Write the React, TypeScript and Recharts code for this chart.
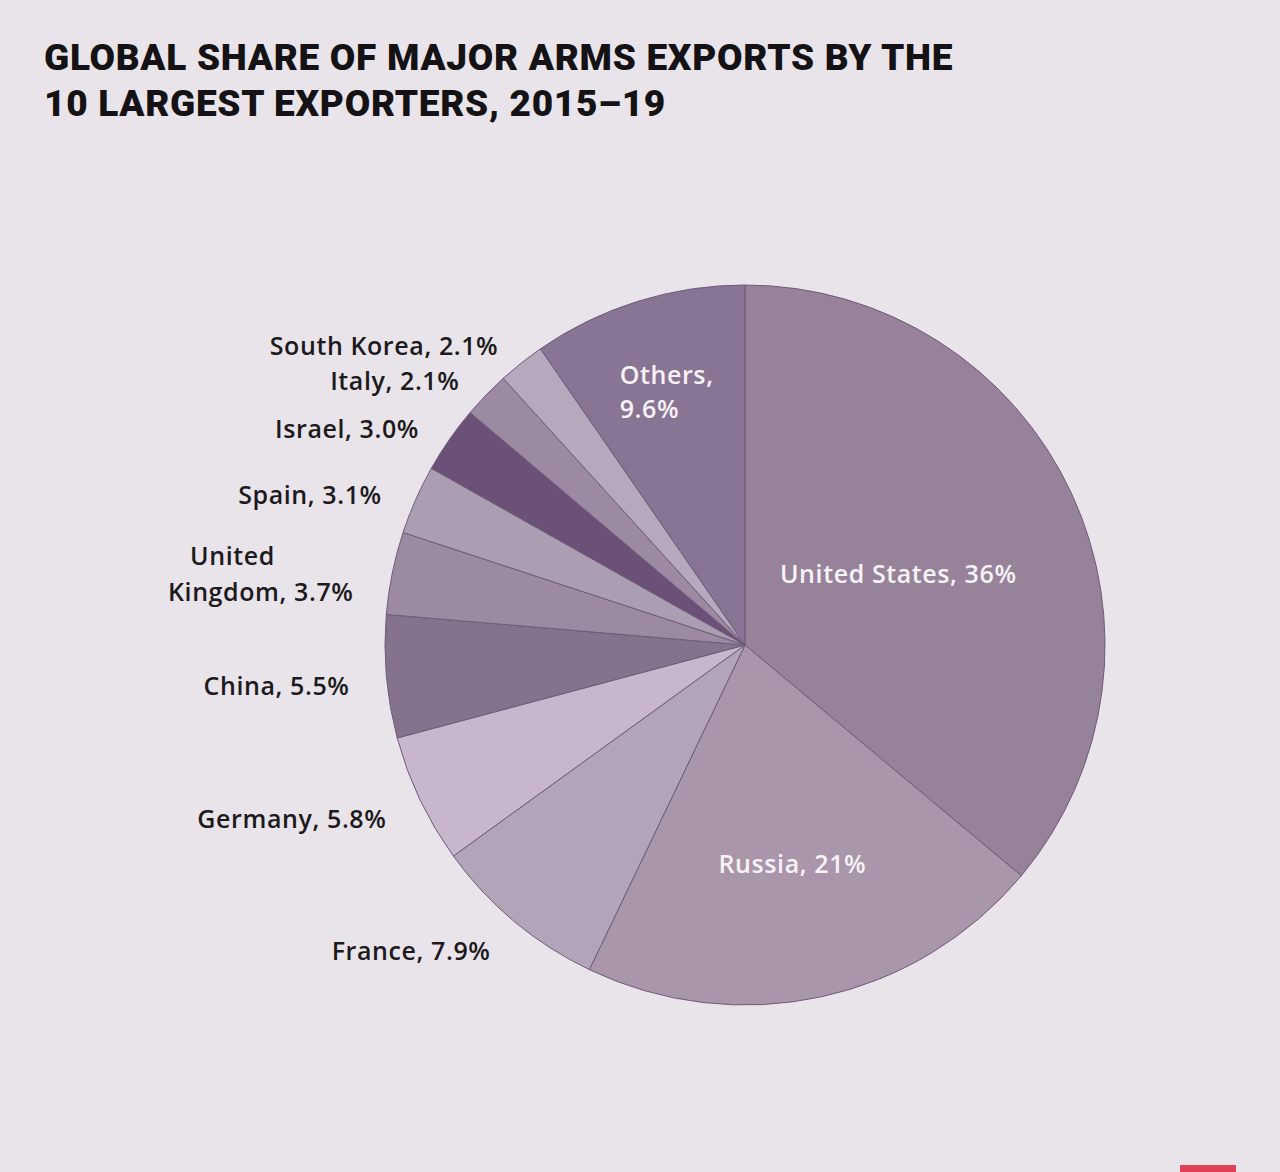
import React from 'react';
import { PieChart, Pie, Cell } from 'recharts';

const countries = [
  'United States',
  'Russia',
  'France',
  'Germany',
  'China',
  'United\nKingdom',
  'Spain',
  'Israel',
  'Italy',
  'South Korea',
  'Others',
];
const shares = [36, 21, 7.9, 5.8, 5.5, 3.7, 3.1, 3.0, 2.1, 2.1, 9.6];
const shareLabels = ['36%', '21%', '7.9%', '5.8%', '5.5%', '3.7%', '3.1%', '3.0%', '2.1%', '2.1%', '9.6%'];
const sliceColors = [
  '#968399',
  '#a996ab',
  '#b3a5b9',
  '#c8b7cc',
  '#85728c',
  '#9b8aa2',
  '#ab9db2',
  '#6b5177',
  '#9c8aa3',
  '#b6a9bd',
  '#887593',
];

const data = countries.map((name, i) => ({ name, value: shares[i], text: shareLabels[i] }));

// labels drawn inside their slice, radius as fraction of outer radius
const insideRadius: Record<string, number> = { 'United States': 0.47, Russia: 0.62, Others: 0.74 };

const RAD = Math.PI / 180;
const labelFont = {
  fontFamily: '"Open Sans", sans-serif',
  fontSize: 25,
  fontWeight: 600,
  letterSpacing: 0.6,
};

function renderLabel(props: any) {
  const { cx, cy, midAngle, outerRadius, payload, index } = props;
  const name: string = payload.name;
  const text: string = payload.text;
  const cos = Math.cos(-midAngle * RAD);
  const sin = Math.sin(-midAngle * RAD);

  if (insideRadius[name] !== undefined) {
    const r = outerRadius * insideRadius[name];
    const x = cx + r * cos;
    const y = cy + r * sin;
    if (name === 'Others') {
      return (
        <text key={index} x={x - 46} y={y - 17} fill="#f6f2f7" textAnchor="start" dominantBaseline="central" {...labelFont}>
          <tspan x={x - 46}>{name},</tspan>
          <tspan x={x - 46} dy={34}>{text}</tspan>
        </text>
      );
    }
    return (
      <text key={index} x={x} y={y} fill="#f6f2f7" textAnchor="middle" dominantBaseline="central" {...labelFont}>
        {name}, {text}
      </text>
    );
  }

  const x = cx + (outerRadius + 37) * cos;
  const y = cy + (outerRadius + 30) * sin + 6;
  const lines = name.split('\n');
  if (lines.length > 1) {
    return (
      <text key={index} x={x} y={y} fill="#1c1a1d" textAnchor="start" dominantBaseline="central" {...labelFont}>
        <tspan x={x - 166} dy={-18}>{lines[0]}</tspan>
        <tspan x={x - 188} dy={36}>{lines[1]}, {text}</tspan>
      </text>
    );
  }
  return (
    <text key={index} x={x} y={y} fill="#1c1a1d" textAnchor="end" dominantBaseline="central" {...labelFont}>
      {name}, {text}
    </text>
  );
}

export default function App() {
  return (
    <div
      style={{
        position: 'absolute',
        left: 0,
        top: 0,
        width: 1280,
        height: 1172,
        background: '#e9e4ea',
        overflow: 'hidden',
      }}
    >
      <div
        style={{
          position: 'absolute',
          left: 44,
          top: 35,
          fontFamily: 'Roboto, sans-serif',
          fontWeight: 900,
          fontSize: 37,
          lineHeight: '46px',
          color: '#141214',
          letterSpacing: 0.7,
          whiteSpace: 'nowrap',
        }}
      >
        GLOBAL SHARE OF MAJOR ARMS EXPORTS BY THE
        <br />
        10 LARGEST EXPORTERS, 2015–19
      </div>
      <div style={{ position: 'absolute', left: 0, top: 0 }}>
        <PieChart width={1280} height={1172}>
          <Pie
            data={data}
            dataKey="value"
            nameKey="name"
            cx={740}
            cy={640}
            outerRadius={360}
            startAngle={90}
            endAngle={-270}
            stroke="#6f5c78"
            strokeWidth={1}
            label={renderLabel}
            labelLine={false}
            isAnimationActive={false}
          >
            {data.map((d, i) => (
              <Cell key={d.name} fill={sliceColors[i]} />
            ))}
          </Pie>
        </PieChart>
      </div>
      <div
        style={{
          position: 'absolute',
          left: 1180,
          top: 1165,
          width: 56,
          height: 7,
          background: '#e0405a',
        }}
      />
    </div>
  );
}
